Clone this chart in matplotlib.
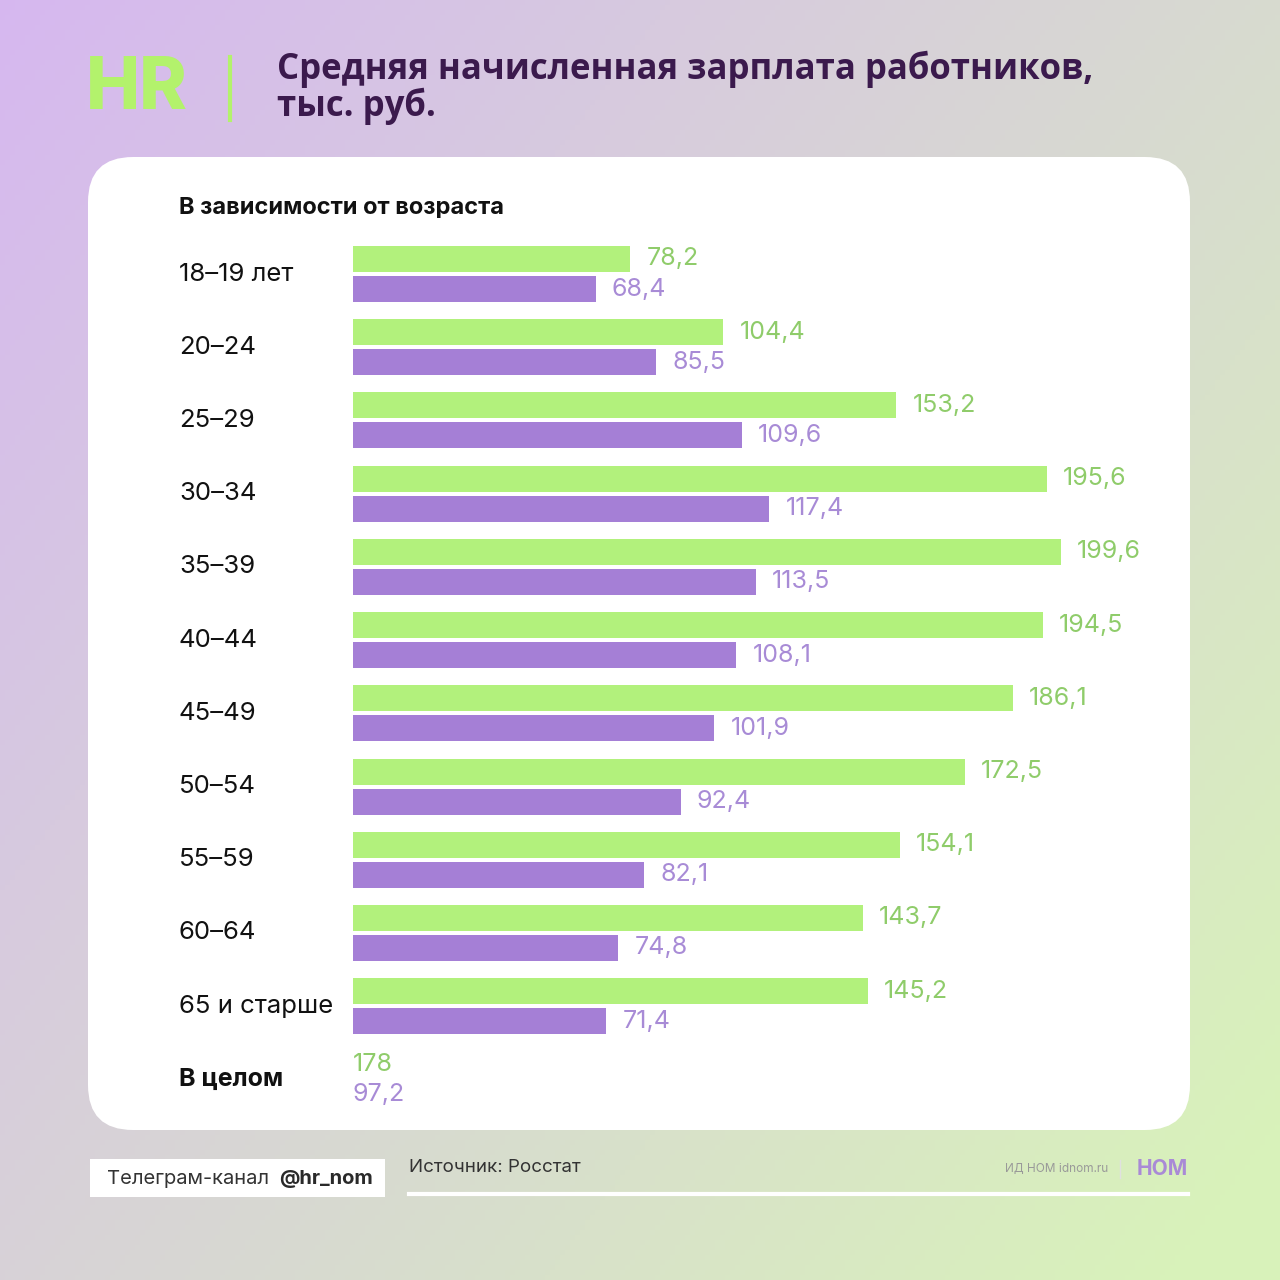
import matplotlib
matplotlib.use('Agg')
import matplotlib.pyplot as plt
from matplotlib.patches import FancyBboxPatch
from matplotlib.transforms import blended_transform_factory
import numpy as np

# данные
groups = ['18–19 лет', '20–24', '25–29', '30–34', '35–39', '40–44',
          '45–49', '50–54', '55–59', '60–64', '65 и старше']
green_vals = [78.2, 104.4, 153.2, 195.6, 199.6, 194.5, 186.1, 172.5, 154.1, 143.7, 145.2]
purple_vals = [68.4, 85.5, 109.6, 117.4, 113.5, 108.1, 101.9, 92.4, 82.1, 74.8, 71.4]
total_green = 178
total_purple = 97.2

title = 'Средняя начисленная зарплата работников,\nтыс. руб.'
subtitle = 'В зависимости от возраста'

GREEN = '#b2f17c'
PURPLE = '#a57fd6'
GREEN_TXT = '#8fcc6a'
PURPLE_TXT = '#a88bd6'
DARK = '#3b1a4d'

plt.rcParams['font.family'] = ['Inter', 'DejaVu Sans']

fig = plt.figure(figsize=(12.8, 12.8), dpi=100)

# фон-градиент
bg = fig.add_axes([0, 0, 1, 1])
n = 256
xx, yy = np.meshgrid(np.linspace(0, 1, n), np.linspace(0, 1, n))
t = np.clip(0.6 * xx + 0.45 * yy, 0, 1)[..., None]
c1 = np.array([0.84, 0.72, 0.94])
c2 = np.array([0.85, 0.95, 0.73])
img = c1 * (1 - t) + c2 * t
bg.imshow(img, extent=[0, 1280, 1280, 0], aspect='auto', zorder=0)
bg.set_xlim(0, 1280)
bg.set_ylim(1280, 0)
bg.axis('off')

# карточка
card = FancyBboxPatch((88, 157), 1102, 973, boxstyle='round,pad=0,rounding_size=45',
                      fc='white', ec='none', zorder=1)
bg.add_patch(card)

# логотип и заголовок
bg.text(86, 90, 'HR', color='#b3f26c', fontsize=52, fontweight='heavy',
        va='center', ha='left', zorder=2)
bg.plot([230, 230], [57, 120], color='#b3f26c', lw=3, zorder=2)
bg.text(277, 88, title, color=DARK, fontsize=25, fontweight='bold',
        va='center', ha='left', linespacing=1.0, zorder=2, family=['Open Sans', 'DejaVu Sans'])

bg.text(179, 208, subtitle, color='#111111', fontsize=17, fontweight='bold',
        va='center', ha='left', zorder=2)

# подвал
bg.add_patch(plt.Rectangle((90, 1159), 295, 38, fc='white', ec='none', zorder=1))
bg.text(107, 1179, 'Телеграм-канал', color='#333333', fontsize=14.5, va='center', ha='left', zorder=2)
bg.text(279, 1179, '@hr_nom', color='#2a2a2a', fontsize=14.5, fontweight='bold',
        va='center', ha='left', zorder=2)
bg.text(409, 1167, 'Источник: Росстат', color='#333333', fontsize=13.5, va='center', ha='left', zorder=2)
bg.plot([409, 1188], [1194, 1194], color='white', lw=3, zorder=2)
bg.text(1108, 1169, 'ИД НОМ idnom.ru', color='#999999', fontsize=8.5, va='center', ha='right', zorder=2)
bg.plot([1120, 1120], [1160, 1178], color='#e0e0e0', lw=1, zorder=2)
bg.text(1188, 1169, 'НОМ', color='#a98ad6', fontsize=15, fontweight='bold',
        va='center', ha='right', zorder=2)

# график
ppu = 708 / 199.6  # пикселей на единицу
ax = fig.add_axes([353 / 1280, 1 - 1116 / 1280, (1190 - 353) / 1280, (1116 - 237.4) / 1280])
ax.patch.set_visible(False)
ax.set_xlim(0, 837 / ppu)
ax.set_ylim(11.5, -0.5)
ax.axis('off')

y = np.arange(len(groups))
off = 0.205
h = 0.355
ax.barh(y - off, green_vals, height=h, color=GREEN, zorder=3)
ax.barh(y + off, purple_vals, height=h, color=PURPLE, zorder=3)

gap = 16 / ppu
fmt = lambda v: f'{v:g}'.replace('.', ',')
for i in range(len(groups)):
    ax.text(green_vals[i] + gap, i - off, fmt(green_vals[i]), color=GREEN_TXT,
            fontsize=18, va='center', ha='left')
    ax.text(purple_vals[i] + gap, i + off, fmt(purple_vals[i]), color=PURPLE_TXT,
            fontsize=18, va='center', ha='left')

tr = blended_transform_factory(fig.transFigure, ax.transData)
for i, g in enumerate(groups):
    ax.text(179 / 1280, i, g, transform=tr, color='#111111',
            fontsize=18.5, va='center', ha='left')

# итог
k = len(groups)
ax.text(179 / 1280, k, 'В целом', transform=tr, color='#111111', fontsize=18,
        fontweight='bold', va='center', ha='left')
ax.text(0, k - off, fmt(total_green), color=GREEN_TXT, fontsize=18, va='center', ha='left')
ax.text(0, k + off, fmt(total_purple), color=PURPLE_TXT, fontsize=18, va='center', ha='left')

fig.savefig('out.png', dpi=100)
